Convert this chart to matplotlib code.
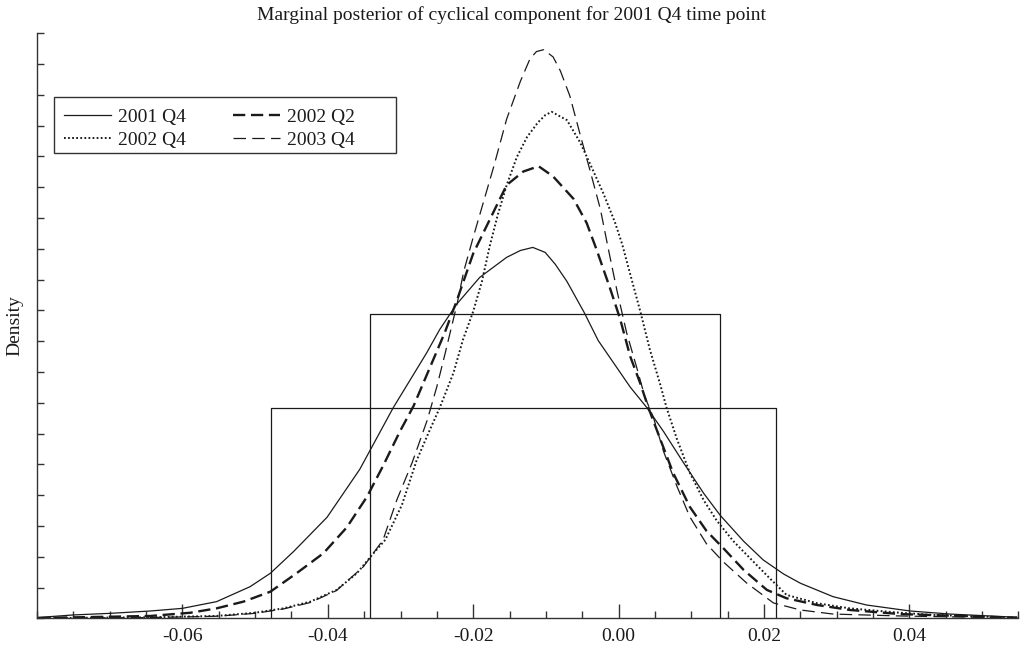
import numpy as np
import matplotlib
matplotlib.use("Agg")
import matplotlib.pyplot as plt
from matplotlib.patches import Rectangle
from matplotlib.ticker import MultipleLocator, FixedLocator, FormatStrFormatter

plt.rcParams['font.family'] = ['Liberation Serif', 'DejaVu Serif']
plt.rcParams['axes.unicode_minus'] = False

# ---- data ----
labels = ["2001 Q4", "2002 Q4", "2002 Q2", "2003 Q4"]

x_2001q4 = [-0.0800, -0.0750, -0.0699, -0.0644, -0.0600, -0.0553, -0.0507, -0.0479, -0.0447, -0.0401,
            -0.0356, -0.0310, -0.0264, -0.0246, -0.0223, -0.0191, -0.0154, -0.0135, -0.0118, -0.0101,
            -0.0087, -0.0071, -0.0047, -0.0028, -0.0001, 0.0016, 0.0039, 0.0062, 0.0089, 0.0117,
            0.0140, 0.0172, 0.0199, 0.0227, 0.0250, 0.0295, 0.0341, 0.0401, 0.0456, 0.0548]
y_2001q4 = [0.05, 0.23, 0.34, 0.50, 0.68, 1.14, 2.16, 3.08, 4.57, 6.91,
            10.19, 14.40, 18.15, 19.75, 21.46, 23.31, 24.68, 25.15, 25.36, 25.02,
            24.20, 23.03, 20.88, 18.99, 17.04, 15.81, 14.40, 12.76, 10.66, 8.55,
            7.03, 5.27, 3.99, 3.03, 2.40, 1.48, 0.91, 0.50, 0.29, 0.07]

x_2002q2 = [-0.0800, -0.0699, -0.0644, -0.0589, -0.0553, -0.0516, -0.0479, -0.0443, -0.0406, -0.0374,
            -0.0346, -0.0324, -0.0301, -0.0282, -0.0259, -0.0239, -0.0223, -0.0200, -0.0177, -0.0154,
            -0.0131, -0.0110, -0.0090, -0.0062, -0.0044, -0.0030, -0.0012, 0.0002, 0.0016, 0.0030,
            0.0041, 0.0057, 0.0075, 0.0098, 0.0121, 0.0144, 0.0172, 0.0204, 0.0231, 0.0273,
            0.0318, 0.0387, 0.0548]
y_2002q2 = [0.02, 0.11, 0.16, 0.38, 0.68, 1.14, 1.82, 3.08, 4.45, 6.21,
            8.32, 10.42, 12.76, 14.52, 17.21, 19.55, 21.66, 24.94, 27.28, 29.62,
            30.55, 30.91, 30.21, 28.68, 27.04, 25.17, 22.60, 20.49, 17.91, 16.04,
            14.40, 12.29, 9.95, 7.62, 5.97, 4.80, 3.31, 1.94, 1.37, 0.91,
            0.57, 0.29, 0.04]

x_2002q4 = [-0.0800, -0.0644, -0.0553, -0.0500, -0.0461, -0.0424, -0.0388, -0.0360, -0.0339, -0.0321,
            -0.0298, -0.0278, -0.0262, -0.0246, -0.0227, -0.0214, -0.0200, -0.0188, -0.0177, -0.0166,
            -0.0154, -0.0140, -0.0126, -0.0111, -0.0101, -0.0092, -0.0071, -0.0053, -0.0039, -0.0021,
            -0.0005, 0.0005, 0.0016, 0.0030, 0.0043, 0.0057, 0.0066, 0.0080, 0.0098, 0.0117,
            0.0135, 0.0158, 0.0181, 0.0204, 0.0231, 0.0273, 0.0318, 0.0387, 0.0433, 0.0548]
y_2002q4 = [0.01, 0.07, 0.16, 0.38, 0.68, 1.14, 1.94, 3.08, 4.34, 5.36,
            7.76, 10.77, 12.62, 14.40, 16.80, 19.06, 20.98, 23.03, 25.50, 27.62,
            29.61, 31.53, 32.90, 33.90, 34.40, 34.63, 34.06, 32.55, 31.05, 29.06,
            27.08, 25.57, 23.53, 20.96, 18.38, 16.04, 14.40, 12.29, 9.95, 8.08,
            6.68, 5.27, 4.10, 2.93, 1.60, 1.03, 0.68, 0.38, 0.23, 0.04]

x_2003q4 = [-0.0800, -0.0644, -0.0553, -0.0500, -0.0461, -0.0424, -0.0388, -0.0351, -0.0324, -0.0305,
            -0.0284, -0.0263, -0.0250, -0.0239, -0.0229, -0.0222, -0.0213, -0.0200, -0.0188, -0.0172,
            -0.0154, -0.0135, -0.0122, -0.0113, -0.0103, -0.0090, -0.0080, -0.0067, -0.0053, -0.0039,
            -0.0025, -0.0014, -0.0002, 0.0011, 0.0025, 0.0036, 0.0048, 0.0062, 0.0080, 0.0098,
            0.0121, 0.0144, 0.0176, 0.0213, 0.0250, 0.0295, 0.0387, 0.0548]
y_2003q4 = [0.01, 0.05, 0.14, 0.34, 0.64, 1.08, 1.90, 3.53, 5.36, 8.10,
            10.64, 13.58, 15.84, 18.03, 20.09, 21.53, 23.72, 26.05, 28.10, 30.84,
            34.13, 36.73, 38.24, 38.75, 38.88, 38.38, 37.42, 35.71, 33.10, 30.57,
            27.97, 25.23, 22.35, 19.54, 17.14, 15.16, 13.72, 11.39, 9.06, 6.94,
            5.09, 3.86, 2.42, 1.05, 0.57, 0.29, 0.16, 0.02]

# uniform prior boxes
box_lower = [-0.0478, -0.0342]
box_upper = [0.0216, 0.0139]
box_height = [14.40, 20.79]

xticks_major = [-0.06, -0.04, -0.02, 0.00, 0.02, 0.04]

# ---- figure ----
fig = plt.figure(figsize=(10.23, 6.49), dpi=100)
ax = fig.add_axes([0.0362, 0.0473, 0.9593, 0.9014])

ink = '#1a1a1a'
h1, = ax.plot(x_2001q4, y_2001q4, color=ink, lw=0.9, solid_joinstyle='round')
h3, = ax.plot(x_2002q2, y_2002q2, color=ink, lw=1.7, dashes=(5.2, 2.4))
h2, = ax.plot(x_2002q4, y_2002q4, color=ink, lw=1.4, dashes=(0.9, 1.2))
h4, = ax.plot(x_2003q4, y_2003q4, color=ink, lw=0.9, dashes=(10.0, 5.0))

for lo, hi, h in zip(box_lower, box_upper, box_height):
    ax.plot([lo, lo, hi, hi], [0, h, h, 0], color=ink, lw=0.9)

ax.set_xlim(-0.08, 0.055)
ax.set_ylim(0, 40)

for s in ['top', 'right']:
    ax.spines[s].set_visible(False)
for s in ['left', 'bottom']:
    ax.spines[s].set_color('#333333')
    ax.spines[s].set_linewidth(1.0)

ax.xaxis.set_major_locator(FixedLocator(xticks_major))
ax.xaxis.set_minor_locator(MultipleLocator(0.005))
ax.xaxis.set_major_formatter(FormatStrFormatter('%.2f'))
ax.yaxis.set_major_locator(FixedLocator(np.linspace(0, 40, 20)))
ax.tick_params(axis='x', which='major', direction='in', length=10, width=1.0,
               color='#333333', labelsize=14, pad=7.0, labelcolor=ink)
ax.tick_params(axis='x', which='minor', direction='in', length=5, width=1.0, color='#333333')
ax.tick_params(axis='y', which='major', direction='in', length=5, width=1.0,
               color='#333333', labelleft=False)

fig.text(0.5, 0.977, "Marginal posterior of cyclical component for 2001 Q4 time point",
         ha='center', va='center', fontsize=14, color=ink)
fig.text(0.0147, 0.498, "Density", rotation=90, ha='center', va='center',
         fontsize=14, color=ink)

# legend (entries) with a separately drawn frame
leg = ax.legend([h1, h2, h3, h4], labels, ncol=2, loc='upper left',
                bbox_to_anchor=(0.0190, 0.8860), borderaxespad=0, fontsize=14,
                frameon=False, handlelength=2.42, handletextpad=0.36,
                columnspacing=2.45, labelspacing=0.28, borderpad=0.42)
for t in leg.get_texts():
    t.set_color(ink)
ax.add_patch(Rectangle((0.0173, 0.7954), 0.3485, 0.0957, transform=ax.transAxes,
                       fill=False, edgecolor='#333333', lw=1.0, zorder=5))

fig.savefig("out.png", dpi=100)
